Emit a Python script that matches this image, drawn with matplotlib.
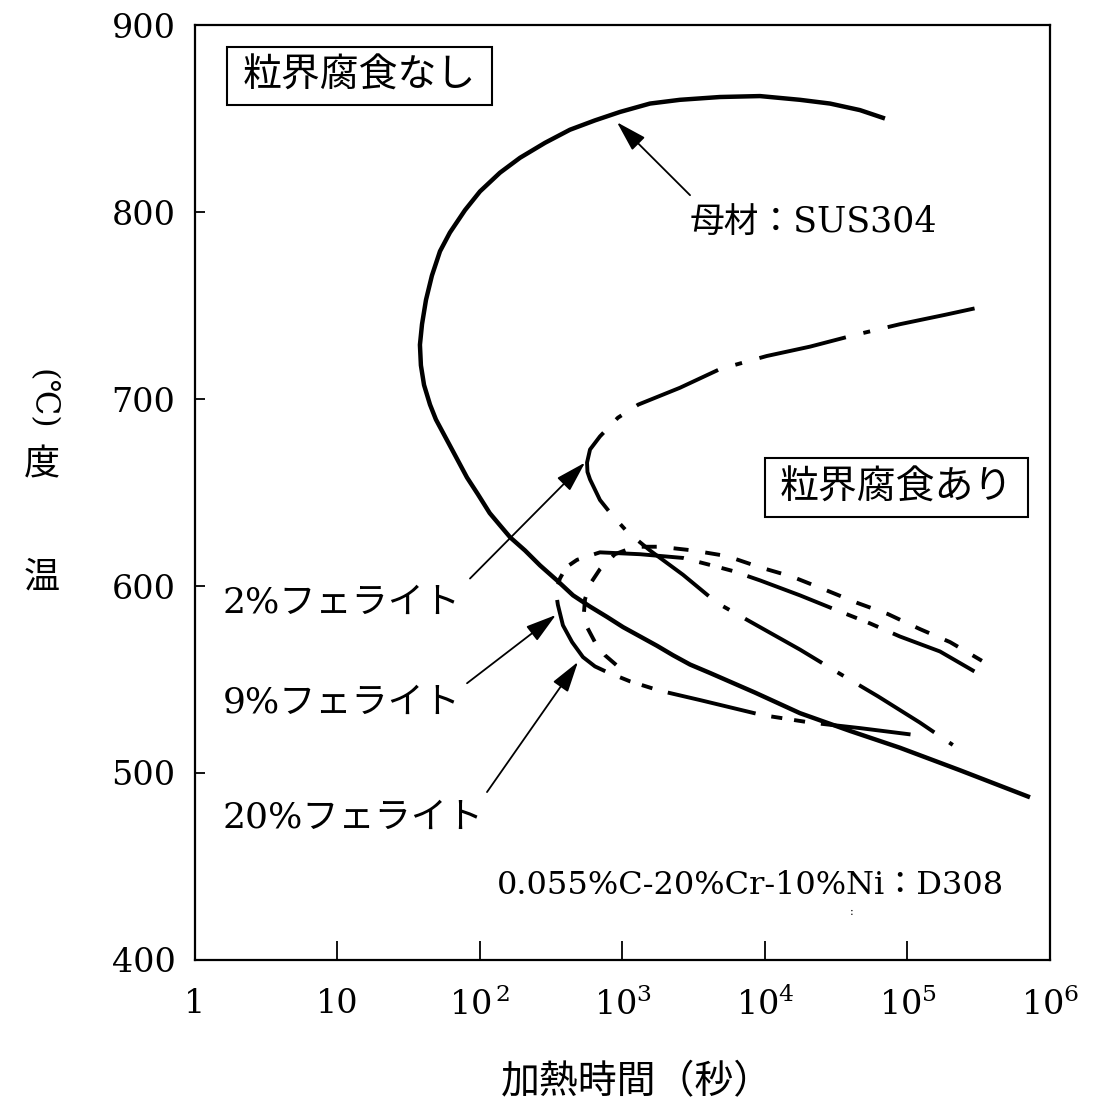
import numpy as np
import matplotlib
matplotlib.use("Agg")
import matplotlib.pyplot as plt
from matplotlib.patches import Rectangle
from matplotlib.ticker import NullLocator

plt.rcParams["lines.scale_dashes"] = False
plt.rcParams["mathtext.fontset"] = "dejavuserif"

SERIF_JP = ["DejaVu Serif", "Noto Sans CJK JP"]
JP = ["Noto Sans CJK JP", "DejaVu Serif"]

# Heating time (s) and temperature (degC) along each sensitization boundary
sus304_time = [6.95e4, 4.64e4, 2.86e4, 1.76e4, 9220, 4830, 2530, 1560, 960, 641,
               428, 286, 191, 138, 100, 78.5, 61.5, 52.4, 46.0, 41.8,
               39.2, 37.9, 38.5, 40.5, 44.6, 49.1, 55.0, 66.8, 81.1, 96.8,
               117, 138, 163, 207, 264, 347, 450, 592, 778, 1010,
               1330, 1750, 2260, 2980, 4110, 8510, 1.76e4, 3.95e4, 8.85e4, 2.33e5,
               7.24e5]
sus304_temp = [850, 854.5, 858, 860, 862, 861.5, 860, 858, 853.5, 849,
               844, 837, 829, 821, 811, 801, 789, 779, 766, 753,
               740, 729, 718, 707.5, 697, 689, 682, 670, 658, 649,
               639, 632.5, 626, 619, 611, 603, 595, 589, 583.5, 578,
               573, 568, 563, 558, 553.5, 543, 532, 522.5, 513.5, 501.5,
               487]

ferrite2_time = [3.67e5, 1.83e5, 8.85e4, 4.15e4, 2.07e4, 1.03e4, 4830, 2530, 1290,
                 929, 695, 592, 564, 568, 592, 695, 843, 1080, 1560, 2660,
                 4600, 9230, 1.76e4, 3.2e4, 6.21e4, 1.22e5, 2.08e5]
ferrite2_temp = [750, 745, 740, 734, 728, 723, 716, 706, 697,
                 690, 680, 673, 666, 661, 657, 646, 638, 629, 619, 606,
                 591, 578, 566, 554, 541, 527, 515]

ferrite9_time = [3.33e5, 1.69e5, 8.85e4, 5.46e4, 3.2e4, 1.76e4, 9230, 5960, 4250,
                 2660, 1330, 695, 480, 402, 364, 341, 352, 382, 443, 528,
                 641, 778, 1130, 1830, 3500, 9530, 2.07e4, 4.65e4, 1.22e5]
ferrite9_temp = [552, 565, 573, 580, 587, 595, 603, 608, 611,
                 615, 617, 618, 614, 610, 604, 597, 590, 579, 570, 562,
                 557, 554, 549, 544, 539, 531, 527, 524, 520]

ferrite20_time = [3.33e5, 1.99e5, 1.22e5, 7.29e4, 4.43e4, 2.64e4, 1.55e4, 9230,
                  5410, 3130, 1830, 1220, 885, 695, 592, 546, 537, 564, 641,
                  753, 929, 1090]
ferrite20_temp = [560, 570, 577, 585, 591, 598, 605, 610,
                  616, 619, 621, 621, 617, 609, 601, 593, 586, 578, 570,
                  563, 557, 552]

x_ticks = [1, 10, 1e2, 1e3, 1e4, 1e5, 1e6]
x_tick_labels = ["1", "10", r"$10^{\,2}$", r"$10^{3}$", r"$10^{4}$", r"$10^{5}$", r"$10^{6}$"]
y_ticks = [400, 500, 600, 700, 800, 900]
y_tick_labels = ["400", "500", "600", "700", "800", "900"]

# dash patterns in points
CHAIN = (64, 13, 5, 13)
DOUBLE_CHAIN = (65, 11.5, 8, 8.6, 8, 11.5)
SHORT_DASH = (10.8, 12.2)

fig = plt.figure(figsize=(10.96, 11.07), dpi=100)
ax = fig.add_axes([0.1779, 0.1328, 0.7801, 0.8446])
ax.set_xscale("log")
ax.set_xlim(1, 1e6)
ax.set_ylim(400, 900)


def dash_offset(t, T, idx, pattern):
    """Offset that centres the first (long) dash of the pattern on point idx."""
    pts = ax.transData.transform(np.column_stack([t, T]))
    seg = np.hypot(*np.diff(pts, axis=0).T) * 72.0 / fig.dpi
    s = np.concatenate([[0.0], np.cumsum(seg)])
    return (pattern[0] / 2.0 - s[idx]) % sum(pattern)


ax.plot(sus304_time, sus304_temp, color="black", lw=3.2,
        solid_joinstyle="round", solid_capstyle="butt")
ax.plot(ferrite2_time, ferrite2_temp, color="black", lw=2.8,
        linestyle=(dash_offset(ferrite2_time, ferrite2_temp, 13, CHAIN), CHAIN),
        dash_joinstyle="round")
ax.plot(ferrite9_time, ferrite9_temp, color="black", lw=2.8,
        linestyle=(dash_offset(ferrite9_time, ferrite9_temp, 18, DOUBLE_CHAIN), DOUBLE_CHAIN),
        dash_joinstyle="round")
ax.plot(ferrite20_time, ferrite20_temp, color="black", lw=2.8,
        linestyle=(3.0, SHORT_DASH), dash_joinstyle="round")

# axes styling
ax.set_xticks(x_ticks, x_tick_labels)
ax.set_yticks(y_ticks, y_tick_labels)
ax.xaxis.set_minor_locator(NullLocator())
ax.yaxis.set_minor_locator(NullLocator())
ax.tick_params(axis="x", direction="in", length=14, width=1.3, pad=20, labelsize=24)
ax.tick_params(axis="y", direction="in", length=7, width=1.3, pad=14, labelsize=24)
for lab in ax.get_xticklabels() + ax.get_yticklabels():
    lab.set_fontfamily("DejaVu Serif")
for sp in ax.spines.values():
    sp.set_linewidth(1.6)

# axis titles
ax.text(0.517, -0.1305, "加熱時間（秒）", transform=ax.transAxes, ha="center",
        va="center", fontsize=28, family=JP)
ax.text(-0.179, 0.4086, "温", transform=ax.transAxes, ha="center", va="center",
        fontsize=26, family=JP)
ax.text(-0.179, 0.5294, "度", transform=ax.transAxes, ha="center", va="center",
        fontsize=26, family=JP)
ax.text(-0.179, 0.600, "(℃)", transform=ax.transAxes, ha="center", va="center",
        fontsize=23, family=SERIF_JP, rotation=270)

# region boxes
for (x0, y0, x1, y1), label in [((0.0374, 0.9144, 0.3474, 0.9765), "粒界腐食なし"),
                                ((0.6667, 0.4738, 0.9743, 0.5369), "粒界腐食あり")]:
    ax.add_patch(Rectangle((x0, y0), x1 - x0, y1 - y0, transform=ax.transAxes,
                           fill=False, lw=1.5, ec="black"))
    ax.text((x0 + x1) / 2, (y0 + y1) / 2, label, transform=ax.transAxes,
            ha="center", va="center", fontsize=28, family=JP)

# curve labels with arrows
arrow = dict(arrowstyle="-|>,head_length=0.95,head_width=0.28", mutation_scale=20,
             lw=1.3, color="black", shrinkA=0, shrinkB=0)
ax.annotate("", xy=(915, 848), xytext=(2980, 809), arrowprops=arrow)
ax.annotate("", xy=(546, 666), xytext=(85.1, 604), arrowprops=arrow)
ax.annotate("", xy=(341, 584.5), xytext=(81.1, 548), arrowprops=arrow)
ax.annotate("", xy=(487, 559.4), xytext=(112, 489.8), arrowprops=arrow)

ax.text(0.579, 0.789, "母材：SUS304", transform=ax.transAxes, ha="left",
        va="center", fontsize=25, family=SERIF_JP)
ax.text(0.0327, 0.3818, "2%フェライト", transform=ax.transAxes, ha="left",
        va="center", fontsize=26, family=SERIF_JP)
ax.text(0.0327, 0.2749, "9%フェライト", transform=ax.transAxes, ha="left",
        va="center", fontsize=26, family=SERIF_JP)
ax.text(0.0327, 0.1519, "20%フェライト", transform=ax.transAxes, ha="left",
        va="center", fontsize=26, family=SERIF_JP)
ax.text(0.353, 0.080, "0.055%C-20%Cr-10%Ni：D308", transform=ax.transAxes,
        ha="left", va="center", fontsize=23, family=SERIF_JP)
ax.text(0.768, 0.051, ":", transform=ax.transAxes, ha="center", va="center",
        fontsize=8, family="DejaVu Serif")

fig.savefig("out.png", dpi=100, facecolor="white")
